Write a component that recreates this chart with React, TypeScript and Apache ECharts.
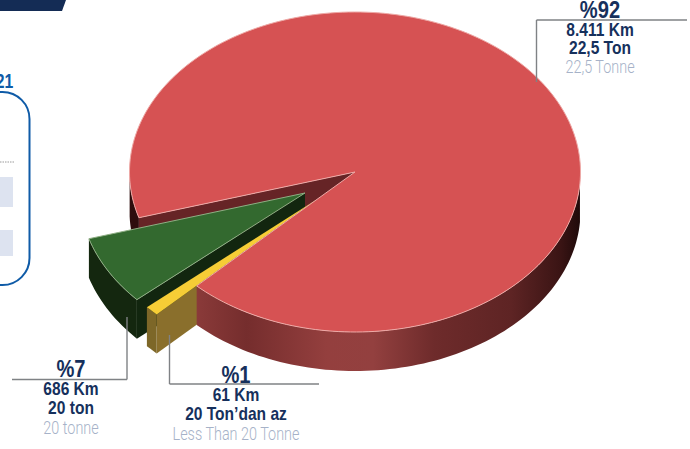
import React, { useEffect, useRef } from "react";
import * as echarts from "echarts";

const sliceNames = ["Less Than 20 Tonne", "20 tonne", "22,5 Tonne"];
const sliceShares = [1, 7, 92];
const drawOrder = [1, 0, 2];
const startAngleDeg = 134.6;

const labelPercent = ["%1", "%7", "%92"];
const labelKm = ["61 Km", "686 Km", "8.411 Km"];
const labelTr = ["20 Ton\u2019dan az", "20 ton", "22,5 Ton"];
const labelEn = ["Less Than 20 Tonne", "20 tonne", "22,5 Tonne"];

const CX = 355, CY = 172, RX = 225.5, RY = 160, DEPTH = 39;
const offsets = [[-40, 28.5], [-50, 21], [0, 0]];
const topFill = ["#f6cd36", "#33692f", "#d65253"];
const sideFill = ["#8a6f2c", "#12260f", "#6e2a2a"];
const lineFill = ["#f6cd36", "#8fae84", "#eea9a6"];

const total = sliceShares.reduce((a, b) => a + b, 0);
const rad = (d: number) => (d * Math.PI) / 180;

function angles(i: number) {
  let a = startAngleDeg;
  for (let k = 0; k < i; k++) a += (sliceShares[k] / total) * 360;
  return [a, a + (sliceShares[i] / total) * 360];
}
function pt(i: number, deg: number, dz = 0) {
  return [
    CX + offsets[i][0] + RX * Math.cos(rad(deg)),
    CY + offsets[i][1] + RY * Math.sin(rad(deg)) + dz,
  ];
}
function apex(i: number, dz = 0) {
  return [CX + offsets[i][0], CY + offsets[i][1] + dz];
}
function arc(i: number, a0: number, a1: number, dz = 0) {
  const pts: number[][] = [];
  const n = Math.max(2, Math.ceil(Math.abs(a1 - a0) / 1.5));
  for (let k = 0; k <= n; k++) pts.push(pt(i, a0 + ((a1 - a0) * k) / n, dz));
  return pts;
}
function rim(i: number, a0: number, a1: number) {
  return [...arc(i, a0, a1), ...arc(i, a1, a0, DEPTH)];
}
const poly = (points: number[][], fill: any, extra: any = {}) => ({
  type: "polygon",
  shape: { points },
  style: { fill, ...extra },
});

const redRimGradient = new echarts.graphic.LinearGradient(0, 0, 1, 0, [
  { offset: 0, color: "#8a3a39" },
  { offset: 0.13, color: "#752d2d" },
  { offset: 0.34, color: "#943f3e" },
  { offset: 0.46, color: "#93403f" },
  { offset: 0.62, color: "#6e2b2b" },
  { offset: 0.82, color: "#5e2424" },
  { offset: 0.95, color: "#3a1414" },
  { offset: 1, color: "#1f0a0a" },
]);

function renderBack() {
  const i = 2;
  const [a0] = angles(i);
  return {
    type: "group",
    children: [
      poly([...arc(i, 178, a0), ...arc(i, a0, 178, DEPTH)], "#2e0d0d"),
      poly([apex(i), pt(i, a0), pt(i, a0, DEPTH), apex(i, DEPTH)], "#662426"),
    ],
  };
}

function renderSlice(params: any) {
  const i = drawOrder[params.dataIndex];
  const [a0, a1] = angles(i);
  const children: any[] = [];
  if (i === 2) {
    children.push(poly(rim(i, a1 - 360, 4), redRimGradient));
  } else {
    children.push(poly([apex(i), pt(i, a0), pt(i, a0, DEPTH), apex(i, DEPTH)], sideFill[i]));
    children.push(poly(rim(i, a0, a1), i === 0 ? "#7d6728" : "#14270f"));
  }
  children.push(
    poly([apex(i), ...arc(i, a0, a1)], topFill[i], {
      stroke: lineFill[i],
      lineWidth: i === 0 ? 0 : 1,
    })
  );
  return { type: "group", children };
}

const NAVY = "#16305c";
const SOFT = "#a6b2c8";
const BOLD = '"Liberation Sans", sans-serif';

function txt(text: string, x: number, y: number, size: number, color: string, weight: any, fam = BOLD, scaleX = 0.89) {
  return {
    type: "text",
    x,
    y,
    scaleX,
    silent: true,
    style: { text, x: 0, y: 0, fill: color, font: `${weight} ${size}px ${fam}`, textAlign: "center", textVerticalAlign: "middle" },
    z: 20,
  };
}
function seg(x1: number, y1: number, x2: number, y2: number) {
  return { type: "line", shape: { x1, y1, x2, y2 }, style: { stroke: "#7f8285", lineWidth: 1.4 }, z: 15 };
}
function labelBlock(i: number, x: number, ys: number[]) {
  return [
    txt(labelPercent[i], x, ys[0], 24, NAVY, 700, BOLD, 0.84),
    txt(labelKm[i], x, ys[1], 17.5, NAVY, 700),
    txt(labelTr[i], x, ys[2], 17.5, NAVY, 700),
    txt(labelEn[i], x, ys[3], 18, SOFT, 300, "Roboto, sans-serif", 0.8),
  ];
}

export default function App() {
  const ref = useRef<HTMLDivElement>(null);
  useEffect(() => {
    const chart = echarts.init(ref.current!, undefined, { renderer: "svg" });
    chart.setOption({
      animation: false,
      backgroundColor: "#ffffff",
      series: [
        {
          type: "custom",
          coordinateSystem: "none",
          renderItem: renderBack,
          data: [sliceShares[2]],
          silent: true,
          z: 1,
        },
        {
          type: "custom",
          coordinateSystem: "none",
          renderItem: renderSlice,
          data: drawOrder.map((k) => ({ name: sliceNames[k], value: sliceShares[k] })),
          silent: true,
          z: 2,
        },
      ],
      graphic: {
        elements: [
          { type: "polygon", shape: { points: [[0, 0], [66, 0], [62, 11], [0, 11]] }, style: { fill: "#142c55" } },
          { type: "rect", shape: { x: -40, y: 92, width: 69.5, height: 193, r: 27 }, style: { fill: "#fff", stroke: "#0f5ba7", lineWidth: 2 } },
          txt("21", 4.5, 81, 21, "#0f5ba7", 700, BOLD, 0.75),
          { type: "rect", shape: { x: 0, y: 177, width: 13, height: 30 }, style: { fill: "#dde3f0" } },
          { type: "rect", shape: { x: 0, y: 230, width: 13, height: 26 }, style: { fill: "#dde3f0" } },
          { type: "line", shape: { x1: 0, y1: 162, x2: 14, y2: 162 }, style: { stroke: "#9a9a9a", lineWidth: 1, lineDash: [1.5, 1] } },
          seg(536.5, 20, 687, 20),
          seg(536.5, 20, 536.5, 82),
          seg(12, 379.5, 127, 379.5),
          seg(127, 379.5, 127, 317),
          seg(169.5, 384, 319, 384),
          seg(169.5, 384, 169.5, 335),
          ...labelBlock(2, 600, [10, 30, 48, 67]),
          ...labelBlock(1, 71, [369, 389, 408, 428]),
          ...labelBlock(0, 236, [375, 395, 414, 434]),
        ],
      },
    });
    return () => chart.dispose();
  }, []);
  return <div ref={ref} style={{ position: "absolute", left: 0, top: 0, width: 690, height: 449 }} />;
}
